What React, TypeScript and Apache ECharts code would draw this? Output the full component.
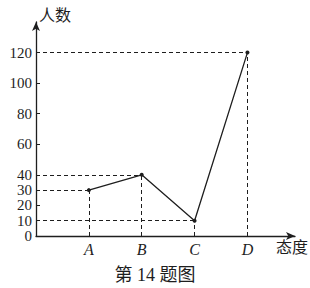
import React, { useEffect, useRef } from "react";
import * as echarts from "echarts";

const categories = ["A", "B", "C", "D"];
const counts = [30, 40, 10, 120];
const yTicks = [0, 10, 20, 30, 40, 60, 80, 100, 120];
const yName = "人数";
const xName = "态度";
const caption = "第 14 题图";

const FONT = "'Liberation Serif', 'Noto Sans CJK SC', serif";
const INK = "#1e1e1e";

export default function App() {
  const ref = useRef<HTMLDivElement>(null);
  useEffect(() => {
    if (!ref.current) return;
    const chart = echarts.init(ref.current, null, { renderer: "svg" });
    const xs = categories.map((_, i) => i + 1);
    const points = xs.map((x, i) => [x, counts[i]]);
    const guides: any[] = [];
    points.forEach(([x, v]) => {
      guides.push([{ coord: [0, v] }, { coord: [x, v] }]);
      guides.push([{ coord: [x, 0] }, { coord: [x, v] }]);
    });
    chart.setOption({
      animation: false,
      backgroundColor: "#ffffff",
      grid: { left: 36, right: 15, top: 22, bottom: 52, containLabel: false },
      title: {
        text: caption,
        left: "center",
        top: 265,
        padding: 0,
        textStyle: { fontFamily: FONT, fontSize: 18, fontWeight: "normal", color: INK, lineHeight: 20 },
      },
      xAxis: {
        type: "value",
        min: 0,
        max: 4.9,
        axisLine: {
          show: true,
          symbol: ["none", "arrow"],
          symbolSize: [6, 9],
          lineStyle: { color: INK, width: 1.3 },
        },
        axisTick: { show: false },
        splitLine: { show: false },
        axisLabel: {
          customValues: xs,
          formatter: (v: number) => categories[Math.round(v) - 1] ?? "",
          fontFamily: FONT,
          fontStyle: "italic",
          fontSize: 16,
          color: INK,
          margin: 5,
        },
      },
      yAxis: {
        type: "value",
        min: 0,
        max: 140,
        axisLine: {
          show: true,
          symbol: ["none", "arrow"],
          symbolSize: [6, 9],
          lineStyle: { color: INK, width: 1.3 },
        },
        axisTick: {
          show: true,
          inside: true,
          length: 4,
          customValues: yTicks.slice(1),
          lineStyle: { color: INK, width: 1 },
        },
        splitLine: { show: false },
        axisLabel: {
          customValues: yTicks,
          showMinLabel: true,
          hideOverlap: false,
          fontFamily: FONT,
          fontSize: 15,
          lineHeight: 15,
          color: INK,
          margin: 4,
          formatter: (v: number) => String(v),
        },
      },
      graphic: [
        {
          type: "text",
          left: 39,
          top: 6,
          style: { text: yName, font: '16px "Noto Sans CJK SC"', fill: INK },
        },
        {
          type: "text",
          left: 276,
          top: 238,
          style: { text: xName, font: '16px "Noto Sans CJK SC"', fill: INK },
        },
      ],
      series: [
        {
          type: "line",
          data: points,
          symbol: "circle",
          symbolSize: 4,
          itemStyle: { color: INK },
          lineStyle: { color: INK, width: 1.3 },
          markLine: {
            silent: true,
            symbol: "none",
            label: { show: false },
            lineStyle: { color: INK, width: 1, type: [4, 3] },
            data: guides,
          },
          z: 3,
        },
      ],
    });
    return () => chart.dispose();
  }, []);
  return (
    <div
      ref={ref}
      style={{ position: "fixed", left: 0, top: 0, width: 310, height: 288 }}
    />
  );
}
